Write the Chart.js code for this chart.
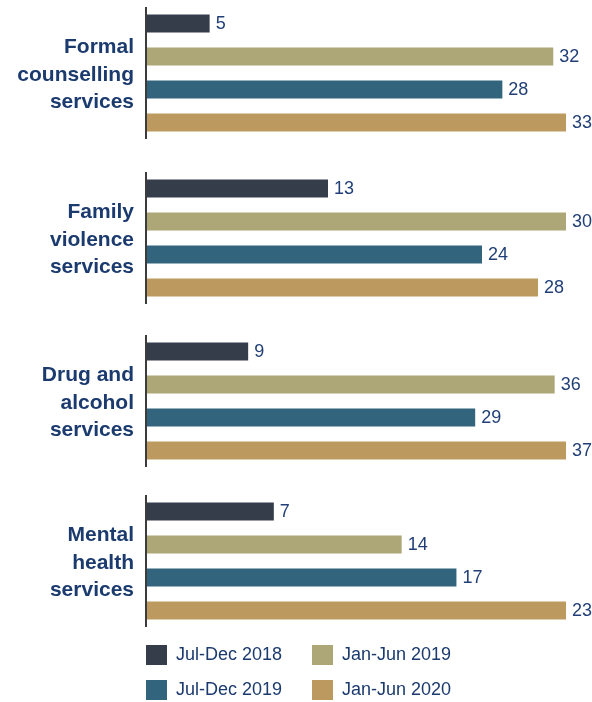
<!DOCTYPE html>
<html>
<head>
<meta charset="utf-8">
<script src="https://cdn.jsdelivr.net/npm/chart.js@4/dist/chart.umd.min.js"></script>
<style>
    body { margin: 0; background: #fff; }
    #wrap { position: relative; width: 592px; height: 702px; overflow: hidden; }
    #wrap canvas { position: absolute; left: 0; }
</style>
</head>
<body>
<div id="wrap">
    <canvas id="group0" width="592" height="132" style="top:7px"></canvas>
    <canvas id="group1" width="592" height="132" style="top:172px"></canvas>
    <canvas id="group2" width="592" height="132" style="top:335px"></canvas>
    <canvas id="group3" width="592" height="132" style="top:495px"></canvas>
    <canvas id="legendLeft" width="170" height="180" style="top:630px; left:131px"></canvas>
    <canvas id="legendRight" width="170" height="180" style="top:630px; left:297px"></canvas>
</div>
<script>
// data
const categories = [
    ['Formal', 'counselling', 'services'],
    ['Family', 'violence', 'services'],
    ['Drug and', 'alcohol', 'services'],
    ['Mental', 'health', 'services']
];
const seriesNames = ['Jul-Dec 2018', 'Jan-Jun 2019', 'Jul-Dec 2019', 'Jan-Jun 2020'];
const julDec2018 = [5, 13, 9, 7];
const janJun2019 = [32, 30, 36, 14];
const julDec2019 = [28, 24, 29, 17];
const janJun2020 = [33, 28, 37, 23];

const seriesValues = [julDec2018, janJun2019, julDec2019, janJun2020];
const seriesColors = ['#363d4a', '#ada676', '#33647e', '#bc9a5f'];

const FONT = 'Arial, "Liberation Sans", sans-serif';
const NAVY = '#1b3a6e';

// numbers at the end of each bar
const valueLabels = {
    id: 'valueLabels',
    afterDatasetsDraw(chart) {
        const ctx = chart.ctx;
        ctx.save();
        ctx.font = '18px ' + FONT;
        ctx.fillStyle = '#213f76';
        ctx.textAlign = 'left';
        ctx.textBaseline = 'middle';
        chart.data.datasets.forEach((ds, i) => {
            chart.getDatasetMeta(i).data.forEach((bar, j) => {
                ctx.fillText(ds.data[j], bar.x + 6, bar.y + 1);
            });
        });
        ctx.restore();
    }
};

function renderGroup(g) {
    const ctx = document.getElementById('group' + g).getContext('2d');
    const values = seriesValues.map(s => s[g]);

    new Chart(ctx, {
        type: 'bar',
        data: {
            labels: [categories[g]],
            datasets: seriesNames.map((name, i) => ({
                label: name,
                data: [seriesValues[i][g]],
                backgroundColor: seriesColors[i],
                borderWidth: 0,
                categoryPercentage: 1,
                barPercentage: 0.54
            }))
        },
        options: {
            indexAxis: 'y',
            responsive: false,
            animation: false,
            layout: { padding: { top: 0, bottom: 0, left: 0, right: 26 } },
            plugins: {
                legend: { display: false },
                tooltip: { enabled: false }
            },
            scales: {
                x: {
                    display: false,
                    min: 0,
                    max: Math.max(...values)
                },
                y: {
                    grid: { display: false, drawTicks: false },
                    border: { display: true, color: '#3c3c3c', width: 2, z: 1 },
                    ticks: {
                        padding: 12,
                        labelOffset: 2,
                        color: NAVY,
                        font: { family: FONT, size: 21, weight: 'bold', lineHeight: 1.3 }
                    },
                    afterFit: scale => {
                        // one tall label: don't let it shrink the plot
                        scale.width = 146;
                        scale.paddingTop = 0;
                        scale.paddingBottom = 0;
                    }
                }
            }
        },
        plugins: [valueLabels]
    });
}

function renderLegend(id, indices) {
    const ctx = document.getElementById(id).getContext('2d');
    new Chart(ctx, {
        type: 'bar',
        data: {
            labels: [],
            datasets: seriesNames.map((name, i) => ({
                label: name,
                data: [],
                backgroundColor: seriesColors[i],
                borderWidth: 0
            }))
        },
        options: {
            responsive: false,
            animation: false,
            plugins: {
                legend: {
                    position: 'top',
                    align: 'start',
                    labels: {
                        boxWidth: 21,
                        boxHeight: 20,
                        padding: 15,
                        color: NAVY,
                        font: { family: FONT, size: 18 },
                        filter: item => indices.includes(item.datasetIndex)
                    }
                },
                tooltip: { enabled: false }
            },
            scales: {
                x: { display: false },
                y: { display: false }
            }
        }
    });
}

categories.forEach((c, g) => renderGroup(g));
renderLegend('legendLeft', [0, 2]);
renderLegend('legendRight', [1, 3]);
</script>
</body>
</html>
